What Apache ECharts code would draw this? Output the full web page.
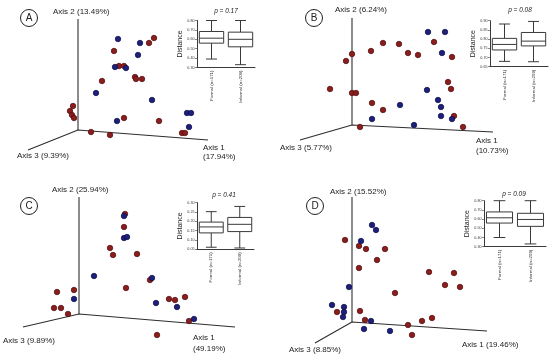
<!DOCTYPE html>
<html><head><meta charset="utf-8">
<script src="https://cdn.jsdelivr.net/npm/echarts@6/dist/echarts.min.js"></script>
<style>html,body{margin:0;padding:0;background:#fff}#c{width:550px;height:357px}</style>
</head><body><div id="c"></div>
<script>
// ---------- DATA: projected PCoA ordination points (x right, y up, origin = axes junction) ----------
const aRed  = [[76,92],[71,87],[36,79],[41,64],[46,64],[57,53],[58,51],[64,51],[24,49],[-5,24],[-8,19],[-6,15],[-4,12],[46,12],[81,9],[13,-2],[32,-5],[104,-3],[107,-3]];
const aBlue = [[40,91],[62,87],[60,75],[37,63],[48,62],[18,37],[74,30],[109,17],[113,17],[111,3],[39,9]];
const bRed  = [[82,83],[31,82],[47,81],[19,74],[56,72],[66,70],[100,68],[0,71],[-6,64],[-22,36],[0,32],[4,32],[96,43],[99,36],[20,22],[31,15],[102,9],[8,-2],[111,-2]];
const bBlue = [[76,93],[93,93],[90,72],[75,35],[86,25],[89,18],[48,20],[20,6],[62,0],[89,9],[100,6]];
const cRed  = [[46,100],[45,87],[31,66],[34,59],[58,60],[71,34],[47,26],[-5,24],[-22,22],[-25,6],[-18,6],[-11,0],[90,15],[96,14],[106,17],[110,-7],[78,-21]];
const cBlue = [[45,98],[45,76],[48,77],[15,38],[73,36],[-5,15],[77,11],[98,7],[115,-5]];
const dRed  = [[-7,82],[7,76],[14,73],[33,73],[25,62],[7,54],[77,50],[102,49],[93,37],[108,35],[43,29],[-15,10],[8,11],[13,2],[80,4],[70,1],[56,-3],[60,-13]];
const dBlue = [[20,97],[24,92],[9,81],[-3,35],[-20,17],[-8,15],[-8,10],[-9,5],[19,1],[12,-7],[38,-9]];

// axis labels
const aAxisLabels = ['Axis 1', '(17.94%)', 'Axis 2 (13.49%)', 'Axis 3 (9.39%)'];
const bAxisLabels = ['Axis 1', '(10.73%)', 'Axis 2 (6.24%)', 'Axis 3 (5.77%)'];
const cAxisLabels = ['Axis 1', '(49.19%)', 'Axis 2 (25.94%)', 'Axis 3 (9.89%)'];
const dAxisLabels = ['Axis 1 (19.46%)', '', 'Axis 2 (15.52%)', 'Axis 3 (8.85%)'];

// box plots: [min, Q1, median, Q3, max]
const boxCategories = ['Formal (n=171)', 'Informal (n=209)'];
const aBox = [[0.39,0.559,0.612,0.683,0.80],[0.33,0.52,0.60,0.676,0.80]];
const bBox = [[0.679,0.741,0.771,0.804,0.882],[0.677,0.763,0.789,0.836,0.896]];
const cBox = [[0.061,0.138,0.170,0.196,0.252],[0.057,0.145,0.184,0.221,0.280]];
const dBox = [[0.40,0.557,0.614,0.678,0.80],[0.33,0.521,0.596,0.663,0.80]];
const pValues = ['p = 0.17', 'p = 0.08', 'p = 0.41', 'p = 0.09'];
const boxTicksA = [0.30, 0.80, 0.10];
const boxTicksB = [0.65, 0.90, 0.05];
const boxTicksC = [0.05, 0.30, 0.05];
const boxTicksD = [0.30, 0.80, 0.10];

// ---------- LAYOUT ----------
const FONT = '"Liberation Sans", Arial, sans-serif';
const panels = [
  {letter:'A', off:[0,0],   origin:[78,130], top:111, a1:[130,-10], a3:[-50,-20], red:aRed, blue:aBlue, lab:aAxisLabels,
   l1:[203,148], l1b:[203,157], l2:[53,12], l3:[17,156], circ:[29,18],
   box:aBox, ticks:boxTicksA, bgrid:[197,20.5,58,47], p:[226,11]},
  {letter:'B', off:[275,0], origin:[352,125], top:107, a1:[141,-7], a3:[-52,-15], red:bRed, blue:bBlue, lab:bAxisLabels,
   l1:[476,141], l1b:[476,151], l2:[335,10], l3:[280,148], circ:[314,18],
   box:bBox, ticks:boxTicksB, bgrid:[490,20.7,58,46], p:[520,10]},
  {letter:'C', off:[0,178], origin:[79,314], top:117, a1:[156,-13], a3:[-56,-13], red:cRed, blue:cBlue, lab:cAxisLabels,
   l1:[193,338], l1b:[193,349], l2:[52,190], l3:[3,341], circ:[29,206],
   box:cBox, ticks:boxTicksC, bgrid:[197,202.7,57,46.6], p:[224,195]},
  {letter:'D', off:[275,178], origin:[352,322], top:125, a1:[135,-9], a3:[-37,-21], red:dRed, blue:dBlue, lab:dAxisLabels,
   l1:[462,345], l1b:[462,355], l2:[330,192], l3:[289,350], circ:[315,206],
   box:dBox, ticks:boxTicksD, bgrid:[484,200.7,62,46], p:[514,194]}
];

const grids = [], xAxes = [], yAxes = [], series = [], graphics = [];
const W = 275, H = 178.5;

function renderBox(params, api) {
  const x = api.value(0);
  const lo = api.coord([x, api.value(1)]);
  const q1 = api.coord([x, api.value(2)]);
  const md = api.coord([x, api.value(3)]);
  const q3 = api.coord([x, api.value(4)]);
  const hi = api.coord([x, api.value(5)]);
  const band = api.size([1, 0])[0];
  const bw = band * 0.84, cw = bw * 0.45, cx = md[0];
  const st = {stroke:'#3a3a3a', lineWidth:1, fill:null};
  return {type:'group', children:[
    {type:'line', shape:{x1:cx, y1:hi[1], x2:cx, y2:q3[1]}, style:st},
    {type:'line', shape:{x1:cx, y1:q1[1], x2:cx, y2:lo[1]}, style:st},
    {type:'line', shape:{x1:cx-cw/2, y1:hi[1], x2:cx+cw/2, y2:hi[1]}, style:st},
    {type:'line', shape:{x1:cx-cw/2, y1:lo[1], x2:cx+cw/2, y2:lo[1]}, style:st},
    {type:'rect', shape:{x:cx-bw/2, y:q3[1], width:bw, height:q1[1]-q3[1]}, style:{stroke:'#3a3a3a', lineWidth:1, fill:'#fff'}},
    {type:'line', shape:{x1:cx-bw/2, y1:md[1], x2:cx+bw/2, y2:md[1]}, style:st}
  ]};
}

panels.forEach((p, i) => {
  const gi = grids.length;
  grids.push({left:p.off[0], top:p.off[1], width:W, height:H});
  xAxes.push({gridIndex:gi, type:'value', min:p.off[0]-p.origin[0], max:p.off[0]+W-p.origin[0], show:false});
  yAxes.push({gridIndex:gi, type:'value', min:p.origin[1]-(p.off[1]+H), max:p.origin[1]-p.off[1], show:false});
  const axStyle = {color:'#2e2e2e', width:1.1};
  series.push({type:'line', xAxisIndex:gi, yAxisIndex:gi, data:[p.a3, [0,0], p.a1], symbol:'none', silent:true, lineStyle:axStyle, z:1, animation:false});
  series.push({type:'line', xAxisIndex:gi, yAxisIndex:gi, data:[[0,0],[0,p.top]], symbol:'none', silent:true, lineStyle:axStyle, z:1, animation:false});
  series.push({type:'scatter', xAxisIndex:gi, yAxisIndex:gi, data:p.red, symbolSize:5.5, z:3, animation:false,
    itemStyle:{color:'#8c1d1d', borderColor:'#4d0b0b', borderWidth:0.7, opacity:1}});
  series.push({type:'scatter', xAxisIndex:gi, yAxisIndex:gi, data:p.blue, symbolSize:5.5, z:3, animation:false,
    itemStyle:{color:'#1d1f7c', borderColor:'#0c0d45', borderWidth:0.7, opacity:1}});

  // box plot inset
  const bi = grids.length;
  grids.push({left:p.bgrid[0], top:p.bgrid[1], width:p.bgrid[2], height:p.bgrid[3]});
  xAxes.push({gridIndex:bi, type:'category', data:boxCategories,
    axisLine:{show:true, lineStyle:{color:'#3a3a3a', width:1}}, axisTick:{show:false},
    axisLabel:{rotate:90, fontSize:4.4, margin:3, color:'#333', fontFamily:FONT}});
  yAxes.push({gridIndex:bi, type:'value', min:p.ticks[0], max:p.ticks[1], interval:p.ticks[2],
    axisLine:{show:true, lineStyle:{color:'#3a3a3a', width:1}},
    axisTick:{show:true, length:2, lineStyle:{color:'#3a3a3a', width:0.6}},
    splitLine:{show:false},
    axisLabel:{fontSize:3.7, margin:2.5, color:'#333', fontFamily:FONT, formatter:v => v.toFixed(2)},
    name:'Distance', nameLocation:'middle', nameRotate:90, nameGap:13,
    nameTextStyle:{fontSize:7, color:'#222', fontFamily:FONT}});
  series.push({type:'custom', xAxisIndex:bi, yAxisIndex:bi, renderItem:renderBox, animation:false,
    data:p.box.map((b, k) => [k, b[0], b[1], b[2], b[3], b[4]]), z:2});

  // texts
  const txt = (t, xy, extra) => graphics.push({type:'text', x:xy[0], y:xy[1], silent:true,
    style:Object.assign({text:t, fill:'#222', font:'8px ' + FONT, textVerticalAlign:'middle', textAlign:'left'}, extra||{})});
  txt(p.lab[0], p.l1);
  if (p.lab[1]) txt(p.lab[1], p.l1b);
  txt(p.lab[2], p.l2);
  txt(p.lab[3], p.l3);
  txt(pValues[i], p.p, {font:'italic 6.5px ' + FONT, textAlign:'center'});
  graphics.push({type:'circle', shape:{cx:p.circ[0], cy:p.circ[1], r:8.5}, silent:true,
    style:{fill:'#fff', stroke:'#222', lineWidth:1}});
  txt(p.letter, p.circ, {font:'10px ' + FONT, textAlign:'center'});
});

const chart = echarts.init(document.getElementById('c'), null, {renderer:'canvas'});
chart.setOption({
  animation:false,
  backgroundColor:'#fff',
  grid:grids, xAxis:xAxes, yAxis:yAxes, series:series, graphic:graphics
});
</script></body></html>
